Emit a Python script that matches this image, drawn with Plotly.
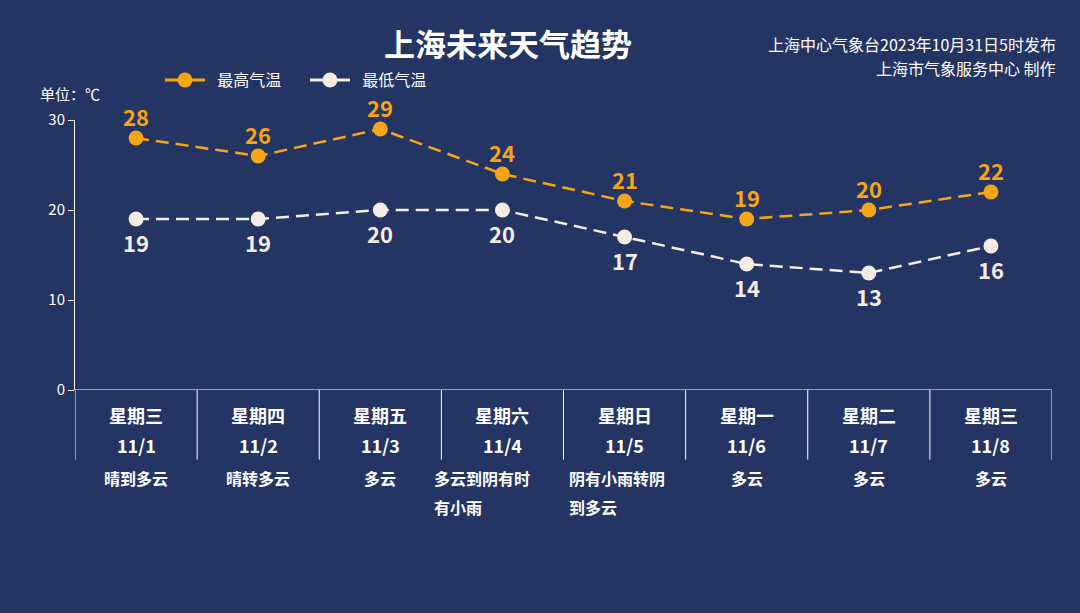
import plotly.graph_objects as go

weekdays = ["星期三", "星期四", "星期五", "星期六", "星期日", "星期一", "星期二", "星期三"]
dates = ["11/1", "11/2", "11/3", "11/4", "11/5", "11/6", "11/7", "11/8"]
weather_line1 = ["晴到多云", "晴转多云", "多云", "多云到阴有时", "阴有小雨转阴", "多云", "多云", "多云"]
weather_line2 = ["", "", "", "有小雨", "到多云", "", "", ""]
high = [28, 26, 29, 24, 21, 19, 20, 22]
low = [19, 19, 20, 20, 17, 14, 13, 16]
ytick_vals = [0, 10, 20, 30]

BG = "#243463"
ORANGE = "#F5A515"
WHITE_PT = "#F6ECE6"
FONT = "Noto Sans CJK SC"

x = list(range(len(dates)))

fig = go.Figure()
fig.add_trace(go.Scatter(
    x=x, y=high, mode="lines+markers", showlegend=False,
    line=dict(color=ORANGE, width=2.5, dash="13px,7px"),
    marker=dict(size=15, color=ORANGE),
))
fig.add_trace(go.Scatter(
    x=x, y=low, mode="lines+markers", showlegend=False,
    line=dict(color=WHITE_PT, width=2.5, dash="13px,7px"),
    marker=dict(size=15, color=WHITE_PT),
))
# legend entries (solid)
fig.add_trace(go.Scatter(x=[None], y=[None], mode="lines+markers", name="  最高气温",
                         line=dict(color=ORANGE, width=3), marker=dict(size=15, color=ORANGE)))
fig.add_trace(go.Scatter(x=[None], y=[None], mode="lines+markers", name="  最低气温",
                         line=dict(color=WHITE_PT, width=3), marker=dict(size=15, color=WHITE_PT)))

shapes = []
for i in range(len(dates) + 1):
    shapes.append(dict(type="line", xref="x", yref="paper", x0=i - 0.5, x1=i - 0.5,
                       y0=0, y1=-0.258, line=dict(color="white", width=1)))
shapes.append(dict(type="line", xref="paper", yref="y", x0=0, x1=1, y0=0, y1=0,
                   line=dict(color="white", width=1)))

ann = []
bold16 = dict(color="white", size=16, family=FONT, weight="bold")
for i in x:
    ann.append(dict(x=i, y=high[i], xref="x", yref="y", text=str(high[i]), yanchor="middle",
                    yshift=22, showarrow=False,
                    font=dict(color=ORANGE, size=22, family=FONT, weight="bold")))
    ann.append(dict(x=i, y=low[i], xref="x", yref="y", text=str(low[i]), yanchor="middle",
                    yshift=-23, showarrow=False,
                    font=dict(color=WHITE_PT, size=22, family=FONT, weight="bold")))
    ann.append(dict(x=i, y=-0.0926, xref="x", yref="paper", text=weekdays[i], yanchor="middle",
                    showarrow=False, font=dict(color="white", size=18, family=FONT, weight="bold")))
    ann.append(dict(x=i, y=-0.2037, xref="x", yref="paper", text=dates[i], yanchor="middle",
                    showarrow=False, font=dict(color="white", size=18, family=FONT, weight="bold")))
    if weather_line2[i]:
        shift = -70 if len(weather_line1[i]) and i == 3 else -58
        ann.append(dict(x=i, y=-0.326, xref="x", yref="paper", text=weather_line1[i],
                        xanchor="left", xshift=shift, yanchor="middle", showarrow=False, font=bold16))
        ann.append(dict(x=i, y=-0.433, xref="x", yref="paper", text=weather_line2[i],
                        xanchor="left", xshift=shift, yanchor="middle", showarrow=False, font=bold16))
    else:
        ann.append(dict(x=i, y=-0.326, xref="x", yref="paper", text=weather_line1[i],
                        xanchor="center", yanchor="middle", showarrow=False, font=bold16))

ann.append(dict(x=0.443, y=1.0, xref="paper", yref="paper", xanchor="center", yanchor="middle", yshift=78,
                text="<b>上海未来天气趋势</b>", showarrow=False,
                font=dict(color="white", size=31, family=FONT)))
ann.append(dict(x=1.006, y=1.0, xref="paper", yref="paper", xanchor="right", yanchor="middle", yshift=76,
                text="上海中心气象台2023年10月31日5时发布", showarrow=False,
                font=dict(color="white", size=16, family=FONT)))
ann.append(dict(x=1.006, y=1.0, xref="paper", yref="paper", xanchor="right", yanchor="middle", yshift=52,
                text="上海市气象服务中心 制作", showarrow=False,
                font=dict(color="white", size=16, family=FONT)))
ann.append(dict(x=0.0, y=1.0, xref="paper", yref="paper", xanchor="right", yanchor="middle", yshift=27,
                xshift=27, text="单位：℃", showarrow=False,
                font=dict(color="white", size=15, family=FONT)))

fig.update_layout(
    width=1080, height=613,
    paper_bgcolor=BG, plot_bgcolor=BG,
    margin=dict(l=75, r=28, t=120, b=223),
    font=dict(family=FONT, color="white"),
    shapes=shapes,
    annotations=ann,
    showlegend=True,
    legend=dict(orientation="h", x=0.087, y=1.148, xanchor="left", yanchor="middle",
                font=dict(color="white", size=16, family=FONT), itemwidth=40,
                bgcolor="rgba(0,0,0,0)", entrywidth=90),
)
fig.update_xaxes(range=[-0.5, len(dates) - 0.5], showticklabels=False, showgrid=False,
                 zeroline=False, showline=False, ticks="")
fig.update_yaxes(range=[0, 30], tickvals=ytick_vals, showgrid=False, zeroline=False,
                 showline=True, linecolor="white", linewidth=1, ticks="outside",
                 ticklen=6, tickcolor="white", tickfont=dict(color="white", size=15, family=FONT))

fig.write_html("out.html", config={"displayModeBar": False},
               post_script="document.body.style.margin='0';document.body.style.background='#243463';")
